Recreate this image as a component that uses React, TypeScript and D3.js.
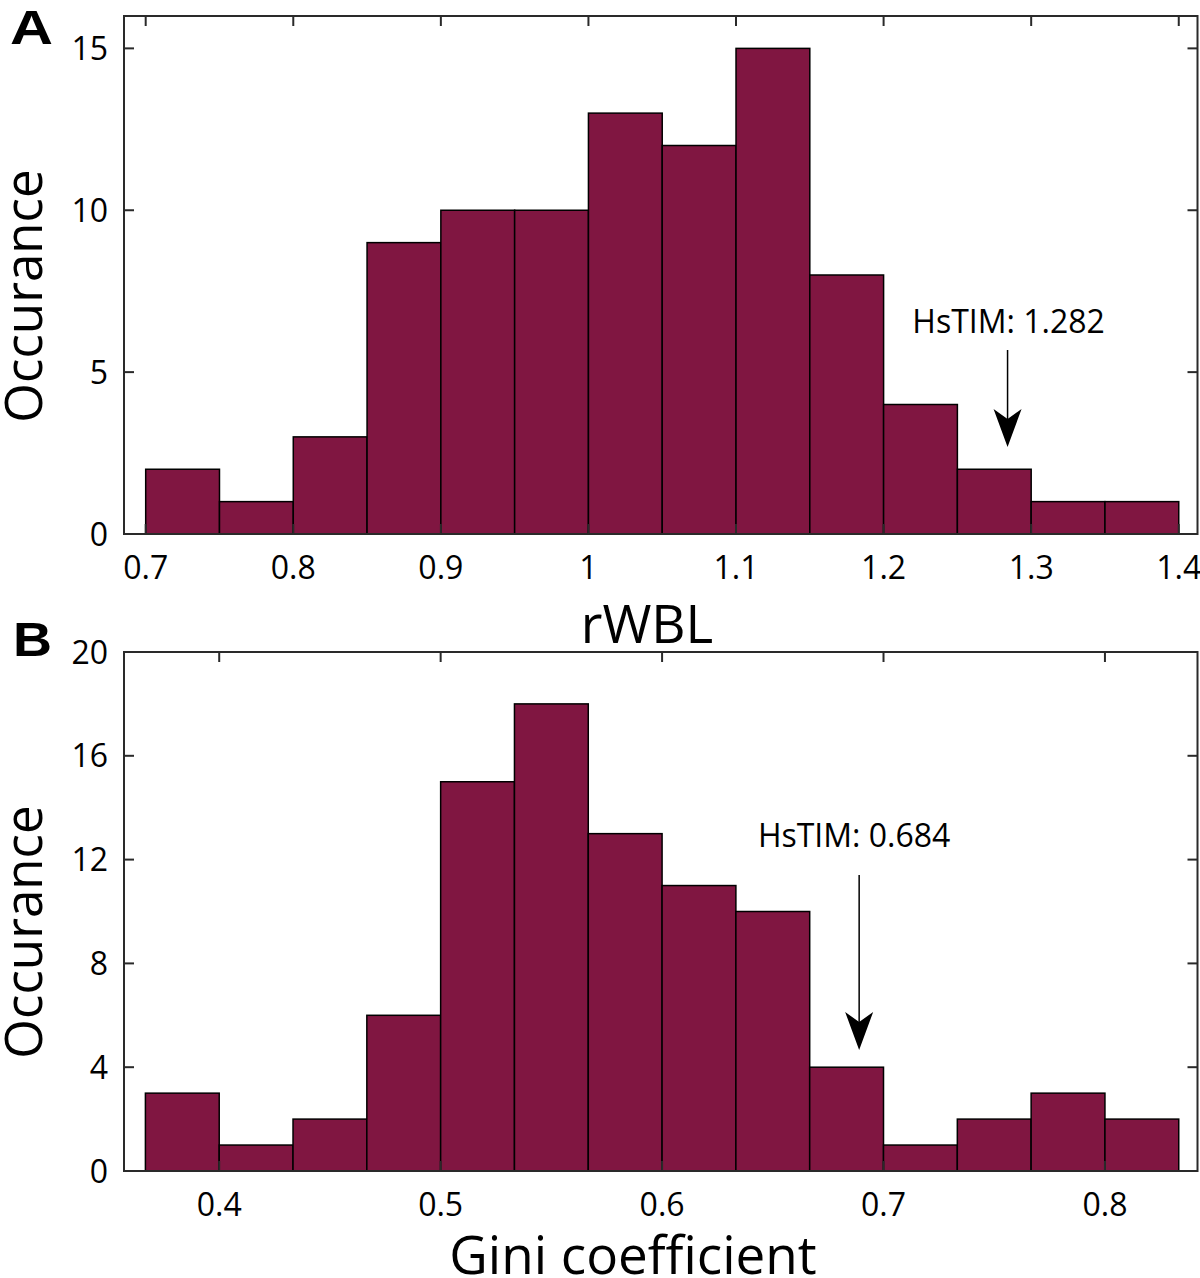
import React from "react";
import * as d3 from "d3";

// ---- Data ----
const binsA_start = 0.7;
const binsA_width = 0.05;
const countsA = [2, 1, 3, 9, 10, 10, 13, 12, 15, 8, 4, 2, 1, 1];
const xTicksA = [0.7, 0.8, 0.9, 1.0, 1.1, 1.2, 1.3, 1.4];
const yTicksA = [0, 5, 10, 15];
const markerA = 1.284;
const markerLabelA = "HsTIM: 1.282";

const binsB_start = 11 / 30;
const binsB_width = 1 / 30;
const countsB = [3, 1, 2, 6, 15, 18, 13, 11, 10, 4, 1, 2, 3, 2];
const xTicksB = [0.4, 0.5, 0.6, 0.7, 0.8];
const yTicksB = [0, 4, 8, 12, 16, 20];
const markerB = 0.689;
const markerLabelB = "HsTIM: 0.684";

const BAR = "#801641";
const AX = "#2a2a2a";
const FONT = "'Open Sans', 'Noto Sans', sans-serif";

type PanelProps = {
  top: number;
  bottom: number;
  xDomain: [number, number];
  yDomain: [number, number];
  start: number;
  width: number;
  counts: number[];
  xTicks: number[];
  yTicks: number[];
  xFmt: (v: number) => string;
  marker: number;
  markerLabel: string;
  labelDx: number;
  labelY: number;
  arrowTop: number;
  arrowTip: number;
  xLabel: string;
  xLabelY: number;
  xLabelX: number;
  yLabelY: number;
  letter: string;
  letterX: number;
  letterY: number;
  letterW: number;
};

const LEFT = 124;
const RIGHT = 1197.5;

function Panel(p: PanelProps) {
  const x = d3.scaleLinear().domain(p.xDomain).range([LEFT, RIGHT]);
  const y = d3.scaleLinear().domain(p.yDomain).range([p.bottom, p.top]);
  const tl = 10;
  const bars = p.counts.map((c, i) => {
    const x0 = x(p.start + i * p.width);
    const x1 = x(p.start + (i + 1) * p.width);
    return { x0, x1, y0: y(c) };
  });
  const mx = x(p.marker);
  const headH = 38;
  const headW = 14;
  const tip = p.arrowTip;
  const arrowPath = `M${mx},${tip} L${mx - headW},${tip - headH} L${mx},${tip - headH + 10} L${mx + headW},${tip - headH} Z`;
  return (
    <g>
      <text
        x={p.letterX}
        y={p.letterY}
        fontFamily="Arial, 'Liberation Sans', sans-serif"
        fontWeight="bold"
        fontSize={48}
        fill="#000"
        textLength={p.letterW}
        lengthAdjust="spacingAndGlyphs"
      >
        {p.letter}
      </text>
      {bars.map((b, i) => (
        <rect key={i} x={b.x0} y={b.y0} width={b.x1 - b.x0} height={p.bottom - b.y0} fill={BAR} stroke="#000" strokeWidth={1.5} />
      ))}
      <rect x={LEFT} y={p.top} width={RIGHT - LEFT} height={p.bottom - p.top} fill="none" stroke={AX} strokeWidth={2} />
      {p.xTicks.map((t, i) => (
        <g key={"x" + i}>
          <line x1={x(t)} x2={x(t)} y1={p.bottom} y2={p.bottom - tl} stroke={AX} strokeWidth={2} />
          <line x1={x(t)} x2={x(t)} y1={p.top} y2={p.top + tl} stroke={AX} strokeWidth={2} />
          <text x={x(t)} y={p.bottom + 45} textAnchor="middle" fontFamily={FONT} fontSize={32} fill="#000">
            {p.xFmt(t)}
          </text>
        </g>
      ))}
      {p.yTicks.map((t, i) => (
        <g key={"y" + i}>
          <line x1={LEFT} x2={LEFT + tl} y1={y(t)} y2={y(t)} stroke={AX} strokeWidth={2} />
          <line x1={RIGHT} x2={RIGHT - tl} y1={y(t)} y2={y(t)} stroke={AX} strokeWidth={2} />
          <text x={108} y={y(t)} dy="0.36em" textAnchor="end" fontFamily={FONT} fontSize={32} fill="#000">
            {t}
          </text>
        </g>
      ))}
      <text x={mx + p.labelDx} y={p.labelY} textAnchor="middle" fontFamily={FONT} fontSize={32} fill="#000">
        {p.markerLabel}
      </text>
      <line x1={mx} x2={mx} y1={p.arrowTop} y2={tip - 15} stroke="#000" strokeWidth={1.5} />
      <path d={arrowPath} fill="#000" />
      <text x={p.xLabelX} y={p.xLabelY} textAnchor="middle" fontFamily={FONT} fontSize={53} fill="#000">
        {p.xLabel}
      </text>
      <text transform={`translate(42,${p.yLabelY}) rotate(-90)`} textAnchor="middle" fontFamily={FONT} fontSize={51} fill="#000">
        Occurance
      </text>
    </g>
  );
}

export default function App() {
  const fmtA = (v: number) => (v === 1 ? "1" : d3.format("")(+v.toFixed(1)));
  const fmtB = (v: number) => v.toFixed(1);
  return (
    <svg width={1200} height={1278} style={{ position: "absolute", left: 0, top: 0, background: "#fff" }}>
      <rect width={1200} height={1278} fill="#fff" />
      <Panel
        top={16}
        bottom={534}
        xDomain={[0.6853, 1.4127]}
        yDomain={[0, 16]}
        start={binsA_start}
        width={binsA_width}
        counts={countsA}
        xTicks={xTicksA}
        yTicks={yTicksA}
        xFmt={fmtA}
        marker={markerA}
        markerLabel={markerLabelA}
        labelDx={1}
        labelY={333}
        arrowTop={350}
        arrowTip={447}
        xLabel="rWBL"
        xLabelX={647}
        xLabelY={643}
        yLabelY={296}
        letter="A"
        letterX={10}
        letterY={44}
        letterW={43}
      />
      <Panel
        top={652}
        bottom={1171}
        xDomain={[0.357, 0.8418]}
        yDomain={[0, 20]}
        start={binsB_start}
        width={binsB_width}
        counts={countsB}
        xTicks={xTicksB}
        yTicks={yTicksB}
        xFmt={fmtB}
        marker={markerB}
        markerLabel={markerLabelB}
        labelDx={-5}
        labelY={847}
        arrowTop={875}
        arrowTip={1050}
        xLabel="Gini coefficient"
        xLabelX={633}
        xLabelY={1274}
        yLabelY={932}
        letter="B"
        letterX={13}
        letterY={656}
        letterW={39}
      />
    </svg>
  );
}
